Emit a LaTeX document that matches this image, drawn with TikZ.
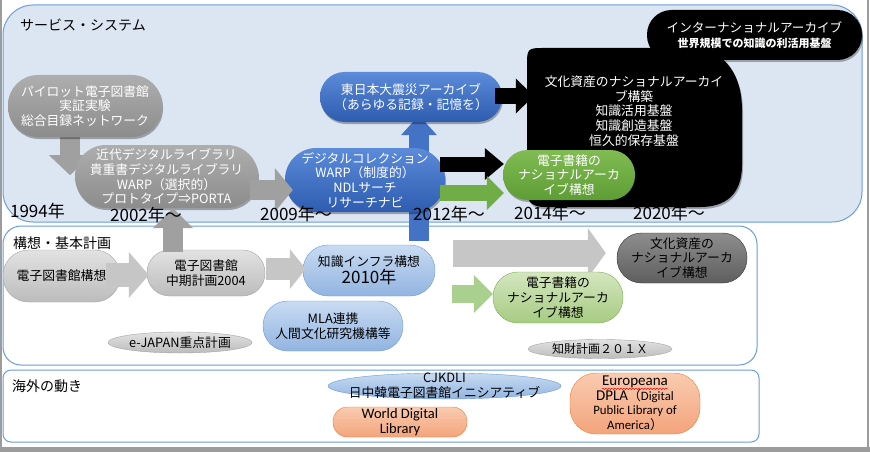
\documentclass[tikz,border=0pt]{standalone}
\usepackage{fontspec}
\setmainfont{Noto Sans CJK JP}
\newfontfamily\calfont{Carlito}
\usetikzlibrary{arrows.meta,shapes.geometric,shadows,decorations.pathmorphing}
\pgfdeclarelayer{bg}
\pgfdeclarelayer{under}
\pgfsetlayers{bg,under,main}
\definecolor{pfill}{HTML}{DCE6F2}
\definecolor{pline}{HTML}{6A9ED8}
\definecolor{gTop}{HTML}{AEAEAE}
\definecolor{gBot}{HTML}{8C8C8C}
\definecolor{bTop}{HTML}{5B8BD9}
\definecolor{bBot}{HTML}{2E5CB0}
\definecolor{grTop}{HTML}{80BC52}
\definecolor{grBot}{HTML}{5E9C35}
\definecolor{lgTop}{HTML}{E2E2E2}
\definecolor{lgBot}{HTML}{BCBCBC}
\definecolor{lgDraw}{HTML}{A5A5A5}
\definecolor{lbTop}{HTML}{C8DBF2}
\definecolor{lbBot}{HTML}{92B4E1}
\definecolor{lbDraw}{HTML}{6D9BD3}
\definecolor{dgTop}{HTML}{8E8E8E}
\definecolor{dgBot}{HTML}{5E5E5E}
\definecolor{lgrTop}{HTML}{D4E6BF}
\definecolor{lgrBot}{HTML}{A6CB82}
\definecolor{lgrDraw}{HTML}{7AAE4D}
\definecolor{sTop}{HTML}{F9CBB0}
\definecolor{sBot}{HTML}{F4A47C}
\definecolor{sDraw}{HTML}{ED7D31}
\definecolor{arGray}{HTML}{A0A0A0}
\definecolor{arLight}{HTML}{C6C6C6}
\definecolor{arBlue}{HTML}{4472C4}
\definecolor{arGreen}{HTML}{70AD47}
\definecolor{arLGreen}{HTML}{A9D08E}
\definecolor{frameGray}{HTML}{9C9C9C}
\tikzset{
  base/.style={inner sep=0pt, align=center, font=\fontsize{12.8}{14.6}\selectfont},
  sz/.style 2 args={minimum width=#1pt, minimum height=#2pt},
  shadowed/.style={drop shadow={shadow xshift=1pt, shadow yshift=-2pt, opacity=0.3, fill=black}},
  gpill/.style={base, top color=gTop, bottom color=gBot, draw=none, text=white, shadowed},
  bpill/.style={base, top color=bTop, bottom color=bBot, draw=none, text=white, shadowed},
  grpill/.style={base, top color=grTop, bottom color=grBot, draw=none, text=white, shadowed},
  kpill/.style={base, fill=black, draw=none, text=white, shadowed},
  lgpill/.style={base, top color=lgTop, bottom color=lgBot, draw=lgDraw, text=black},
  lbpill/.style={base, top color=lbTop, bottom color=lbBot, draw=lbDraw, text=black},
  dgpill/.style={base, top color=dgTop, bottom color=dgBot, draw=black!80, text=black},
  lgrpill/.style={base, top color=lgrTop, bottom color=lgrBot, draw=lgrDraw, text=black},
  spill/.style={base, top color=sTop, bottom color=sBot, draw=sDraw, text=black},
  gell/.style={base, ellipse, top color=lgTop, bottom color=lgBot, draw=lgDraw},
  panel/.style={draw=pline, line width=1pt},
  plabel/.style={inner sep=0pt, anchor=west, font=\fontsize{14}{16}\selectfont},
  year/.style={inner sep=0pt, font=\fontsize{17}{18}\selectfont},
  fat/.style n args={4}{draw=#1, line width=#2pt, -{Triangle[width=#3pt, length=#4pt, line width=0pt, fill=#1]}}
}
\begin{document}
\begin{tikzpicture}[x=1pt,y=-1pt]
\useasboundingbox (0,0) rectangle (870,452);
\begin{pgfonlayer}{bg}
\fill[white] (0,0) rectangle (870,452);
\draw[frameGray, line width=2pt] (1,0) -- (1,452);
\draw[frameGray, line width=2pt] (868,0) -- (868,452);
\draw[frameGray, line width=5pt] (0,449.5) -- (870,449.5);
\draw[panel, fill=pfill, rounded corners=30pt] (3,5) rectangle (862,222);
\draw[panel, fill=white, rounded corners=18pt] (3,226) rectangle (757,365);
\draw[panel, fill=white, rounded corners=8pt] (3,370) rectangle (759,442);
\end{pgfonlayer}
\node[plabel] (lab1) at (20,25) {サービス・システム};
\node[plabel] (lab2) at (13,243) {構想・基本計画};
\node[plabel] (lab3) at (12,386) {海外の動き};

% ---- panel 1
\node[gpill, sz={154}{62}, rounded corners=30pt] (pilot) at (85,106) {パイロット電子図書館\\実証実験\\総合目録ネットワーク};
\node[gpill, sz={183}{63}, rounded corners=31pt] (kindai) at (166.5,176.5) {近代デジタルライブラリ\\貴重書デジタルライブラリ\\WARP（選択的）\\プロトタイプ⇒PORTA};
\node[lbpill, sz={132}{51}, rounded corners=25pt] (infra) at (369,270.5) {知識インフラ構想\\{\fontsize{17}{18}\selectfont 2010年}};
\node[bpill, sz={182}{50}, rounded corners=24.5pt] (quake) at (411,97) {東日本大震災アーカイブ\\（あらゆる記録・記憶を）};
\node[bpill, sz={160}{64}, rounded corners=31.5pt] (digicol) at (365,180) {デジタルコレクション\\WARP（制度的）\\NDLサーチ\\リサーチナビ};
% big black shape (rounder on the right)
\node[base, sz={215}{159}] (big) at (634.5,127.5) {};
\fill[black, opacity=0.3] (528,64) .. controls (528,51) and (530,50) .. (543,50) -- (691,50) .. controls (726,50) and (743,77) .. (743,112) -- (743,167) .. controls (743,197) and (726,209) .. (701,209) -- (546,209) .. controls (531,209) and (528,202) .. (528,192) -- cycle;
\fill[black] (527,62) .. controls (527,49) and (529,48) .. (542,48) -- (690,48) .. controls (725,48) and (742,75) .. (742,110) -- (742,165) .. controls (742,195) and (725,207) .. (700,207) -- (545,207) .. controls (530,207) and (527,200) .. (527,190) -- cycle;
\node[base, text=white] (bigtxt) at (634,111) {文化資産のナショナルアーカイ\\ブ構築\\知識活用基盤\\知識創造基盤\\恒久的保存基盤};
\node[kpill, sz={215}{50}, rounded corners=24.5pt] (intl) at (754.5,35) {{\fontsize{12.6}{16}\selectfont インターナショナルアーカイブ}\\{\fontsize{11}{13}\selectfont\bfseries 世界規模での知識の利活用基盤}};
\node[grpill, sz={132}{50}, rounded corners=24.5pt] (green) at (569,175) {電子書籍の\\ナショナルアーカ\\イブ構想};

\begin{pgfonlayer}{under}
\draw[fat={arGray}{20}{42}{20}] ([xshift=-15pt,yshift=3pt]pilot.south) -- ([xshift=-15pt,yshift=-38pt]pilot.south);
\draw[fat={arBlue}{20}{36}{20}] ([xshift=50pt,yshift=4pt]infra.north) -- ([xshift=8pt,yshift=7pt]quake.south);
\end{pgfonlayer}
\draw[fat={arGray}{20}{44}{18}] ([xshift=-8pt,yshift=-13.5pt]kindai.east) -- ([xshift=8pt,yshift=-10pt]digicol.west);
\draw[fat={black}{16}{35}{18}] ([xshift=-7pt,yshift=1pt]quake.east) -- ([xshift=7pt,yshift=31.5pt]big.west);
\draw[fat={black}{15}{32}{19}] ([xshift=-5pt,yshift=16pt]digicol.east) -- ([xshift=1pt,yshift=11pt]green.west);
\draw[fat={arGreen}{16}{34}{17}] ([xshift=-5pt,yshift=-13pt]digicol.east) -- ([xshift=1pt,yshift=-18pt]green.west);

% ---- panel 2
\coordinate (a10s) at (453,253);
\coordinate (a11s) at (452,294);
\node[dgpill, sz={130}{50}, rounded corners=24.5pt] (bunka) at (682,258) {文化資産の\\ナショナルアーカ\\イブ構想};
\node[lgrpill, sz={130}{51}, rounded corners=25pt] (ebookk) at (558,297.5) {電子書籍の\\ナショナルアーカ\\イブ構想};
\begin{pgfonlayer}{under}
\draw[fat={arLight}{27}{50}{18}] (a10s) -- ([xshift=-11pt,yshift=5pt]bunka.west);
\end{pgfonlayer}
\draw[fat={arLGreen}{18}{38}{19}] (a11s) -- ([yshift=3.5pt]ebookk.west);

\node[lgpill, sz={117}{52}, rounded corners=25.5pt] (denshi) at (61.5,276) {電子図書館構想};
\node[lgpill, sz={118}{46}, rounded corners=22.5pt] (chuuki) at (206,273) {電子図書館\\中期計画2004};
\draw[fat={arGray}{20}{40}{20}] ([xshift=-33pt,yshift=-2pt]chuuki.north) -- ([xshift=6.5pt]kindai.south);
\draw[fat={arLight}{24}{46}{20}] ([xshift=-14pt,yshift=1pt]denshi.east) -- ([xshift=2pt,yshift=-2pt]chuuki.west);
\draw[fat={arLight}{22}{40}{16}] ([xshift=1pt,yshift=4pt]chuuki.east) -- ([xshift=3pt,yshift=1.5pt]infra.west);
\node[lbpill, sz={140}{50}, rounded corners=24.5pt] (mla) at (333,326) {MLA連携\\人間文化研究機構等};
\node[gell, sz={144}{21}, label={[base]center:e-JAPAN重点計画}] (ejapan) at (180,342.5) {};
\node[gell, sz={144}{19}, label={[base, font=\fontsize{12}{14}\selectfont]center:知財計画２０１Ｘ}] (chizai) at (600,349) {};

% ---- panel 3
\node[base, ellipse, sz={233}{26}, top color=lbTop, bottom color=lbBot, draw=lbDraw] (cjk) at (444.5,386) {};
\node[base] (cjktxt) at (444.5,385.5) {CJKDLI\\日中韓電子図書館イニシアティブ};
\node[spill, sz={134}{30}, rounded corners=14.5pt, font=\calfont\fontsize{14.5}{15}\selectfont] (wdl) at (400,422) {World Digital\\Library};
\node[spill, sz={130}{61}, rounded corners=26pt, font=\calfont\fontsize{15}{14.5}\selectfont] (euro) at (635,403.5) {Europeana\\DPLA{\rmfamily\fontsize{12.8}{14.5}\selectfont （}{\fontsize{12.8}{14.5}\selectfont Digital}\\{\fontsize{12.8}{16}\selectfont Public Library of}\\{\fontsize{12.8}{15}\selectfont America{\rmfamily ）}}};
\draw[red, line width=0.5pt, decorate, decoration={snake, amplitude=0.7pt, segment length=3pt}] ([xshift=-33pt,yshift=-16pt]euro.north) -- ([xshift=33pt,yshift=-16pt]euro.north);

% years
\node[year] (y1994) at (37.5,211) {1994年};
\node[year] (y2002) at (146,215) {2002年～};
\node[year] (y2009) at (296,214) {2009年～};
\node[year] (y2012) at (449,214) {2012年～};
\node[year] (y2014) at (550,213) {2014年～};
\node[year] (y2020) at (669,213) {2020年～};
\end{tikzpicture}
\end{document}
